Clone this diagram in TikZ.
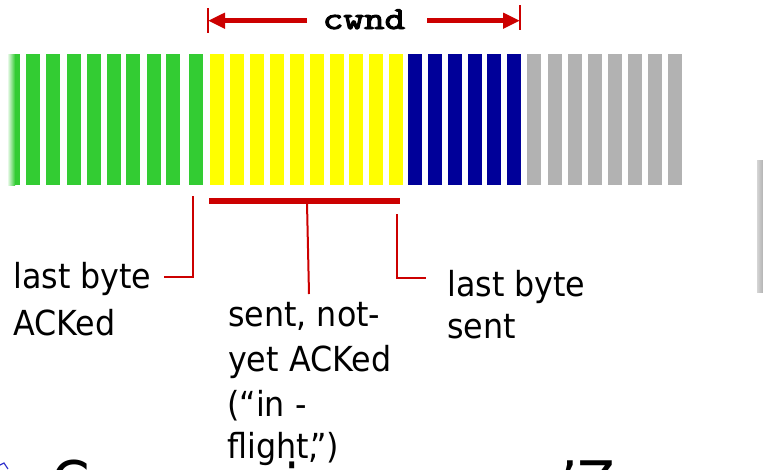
\documentclass[tikz,border=0pt]{standalone}
\usepackage{fontspec}
\setmainfont{DejaVu Sans}[FakeStretch=0.92]
\newfontfamily\cwndfont{Latin Modern Mono}[FakeBold=3]
\usetikzlibrary{arrows.meta}
\definecolor{barGreen}{HTML}{33CC33}
\definecolor{barYellow}{HTML}{FFFF00}
\definecolor{barBlue}{HTML}{000099}
\definecolor{barGray}{HTML}{B2B2B2}
\definecolor{leadRed}{HTML}{CC0000}
\definecolor{bulletBlue}{HTML}{3333CC}
\tikzset{
  seg/.style={inner sep=0pt, minimum width=14pt, minimum height=131pt, anchor=north west},
  lab/.style={anchor=base west, inner sep=0pt, font=\fontsize{34.5}{40}\selectfont},
  big/.style={anchor=base west, inner sep=0pt, font=\fontsize{60}{60}\selectfont},
  leader/.style={draw=leadRed, line width=2pt},
  cwndarrow/.style={draw=leadRed, line width=5pt, -{Triangle[length=17pt,width=15pt]}},
}
\begin{document}
\begin{tikzpicture}[x=1pt,y=-1pt]
\useasboundingbox (0,0) rectangle (763,469);
\clip (0,0) rectangle (763,469);

% partial faded bar at the left
\shade[left color=white, right color=barGreen] (7,54) rectangle (15,185);
\fill[barGreen] (14.5,54) rectangle (20,185);

% bars
\foreach \x [count=\i] in {26,46,67,87,107,126,147,166,189}
  \node[seg, fill=barGreen] (g\i) at (\x,54) {};
\foreach \x [count=\i] in {210,230,250,270,290,310,330,349,369,389}
  \node[seg, fill=barYellow] (y\i) at (\x,54) {};
\foreach \x [count=\i] in {408,428,448,468,487,507}
  \node[seg, fill=barBlue] (b\i) at (\x,54) {};
\foreach \x [count=\i] in {527,548,568,588,608,628,648,668}
  \node[seg, fill=barGray] (s\i) at (\x,54) {};

% gray strip at the right edge
\shade[left color=barGray!55, right color=barGray] (757,160) rectangle (763,292);

% cwnd arrow
\node[anchor=base, inner sep=0pt, font=\cwndfont\fontsize{32}{32}\selectfont] (cw) at (364,29) {\scalebox{1.25}[1]{cwnd}};
\coordinate (cwL) at (208,20.7);
\coordinate (cwR) at (520,20.7);
\coordinate (cwLs) at (307,20.7);
\coordinate (cwRs) at (427,20.7);
\draw[cwndarrow] (cwLs) -- (cwL);
\draw[cwndarrow] (cwRs) -- (cwR);
\draw[leader] (208,8) -- (208,33);
\draw[leader] (520,5) -- (520,30);

% bracket under the in-flight bytes
\node[inner sep=0pt, minimum width=191pt, minimum height=6pt, fill=leadRed, anchor=north west] (brk) at (208.3,197.3) {};

% labels
\node[lab] (l1a) at (13,288.3) {last byte};
\node[lab] (l1b) at (13,335) {ACKed};
\node[lab] (l2a) at (228,326.7) {sent, not-};
\node[lab] (l2b) at (228,371.7) {yet ACKed};
\node[lab] (l2c) at (227,416.7) {(“in -};
\node[lab] (l2d) at (227,458.3) {flight,\kern-0.25em”)};
\node[lab] (l3a) at (447,296.7) {last byte};
\node[lab] (l3b) at (447,338.3) {sent};

% leaders
\coordinate (p1) at (193,196);
\coordinate (p1c) at (193,277);
\coordinate (p1e) at (164,277);
\draw[leader] (p1) -- (p1c) -- (p1e);
\coordinate (p2) at (307,203);
\coordinate (p2e) at (309,294);
\draw[leader] (p2) -- (p2e);
\coordinate (p3) at (397,214);
\coordinate (p3c) at (397,278);
\coordinate (p3e) at (426,278);
\draw[leader] (p3) -- (p3c) -- (p3e);

% cut-off large text at the bottom
\draw[bulletBlue, line width=1.2pt] (0,465) -- (4,463) -- (8,469);
\node[big] (bigC) at (51,504) {C};
\node[big] (bigI) at (284,507) {i};
\node[big] (bigZ) at (560,504) {’Z};
\end{tikzpicture}
\end{document}
